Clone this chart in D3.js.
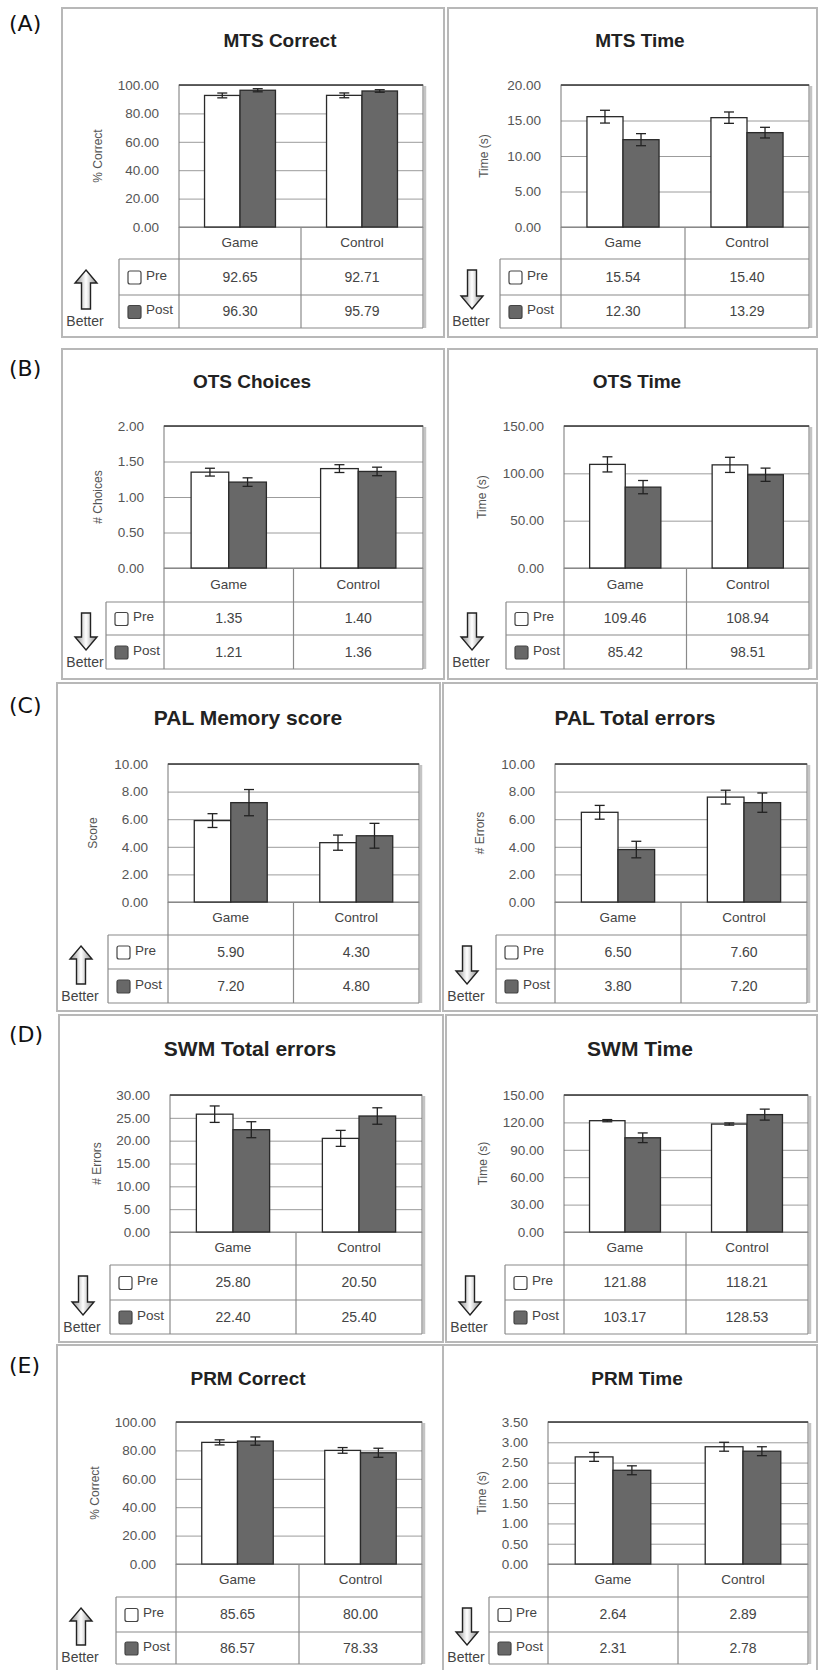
<!DOCTYPE html>
<html>
<head>
<meta charset="utf-8">
<script src="https://cdn.jsdelivr.net/npm/d3@7"></script>
<style>
    body { margin: 0; background: #fff; }
    svg { display: block; }
</style>
</head>
<body>
<div id="chart-area"></div>
<script>
'use strict';

// values
let categories = ['Game', 'Control'];
let seriesNames = ['Pre', 'Post'];
let panelLetters = ['(A)', '(B)', '(C)', '(D)', '(E)'];
let titles = ['MTS Correct', 'MTS Time', 'OTS Choices', 'OTS Time', 'PAL Memory score',
    'PAL Total errors', 'SWM Total errors', 'SWM Time', 'PRM Correct', 'PRM Time'];
let yLabels = ['% Correct', 'Time (s)', '# Choices', 'Time (s)', 'Score',
    '# Errors', '# Errors', 'Time (s)', '% Correct', 'Time (s)'];
let preMeans = [[92.65, 92.71], [15.54, 15.40], [1.35, 1.40], [109.46, 108.94], [5.90, 4.30],
    [6.50, 7.60], [25.80, 20.50], [121.88, 118.21], [85.65, 80.00], [2.64, 2.89]];
let postMeans = [[96.30, 95.79], [12.30, 13.29], [1.21, 1.36], [85.42, 98.51], [7.20, 4.80],
    [3.80, 7.20], [22.40, 25.40], [103.17, 128.53], [86.57, 78.33], [2.31, 2.78]];
let preErrors = [[1.7, 1.7], [0.9, 0.8], [0.055, 0.055], [8, 8], [0.5, 0.55],
    [0.5, 0.5], [1.8, 1.75], [1.2, 1.2], [1.8, 2.0], [0.11, 0.11]];
let postErrors = [[1.1, 0.9], [0.85, 0.75], [0.06, 0.06], [7, 7], [0.95, 0.9],
    [0.6, 0.7], [1.75, 1.8], [5.3, 6], [2.9, 3.2], [0.11, 0.11]];
let yTicks = [
    [0, 20, 40, 60, 80, 100],
    [0, 5, 10, 15, 20],
    [0, 0.5, 1, 1.5, 2],
    [0, 50, 100, 150],
    [0, 2, 4, 6, 8, 10],
    [0, 2, 4, 6, 8, 10],
    [0, 5, 10, 15, 20, 25, 30],
    [0, 30, 60, 90, 120, 150],
    [0, 20, 40, 60, 80, 100],
    [0, 0.5, 1, 1.5, 2, 2.5, 3, 3.5],
];
let betterUp = [true, false, false, false, true, false, false, false, true, false];

// layout (pixels)
let rows = [
    {top: 8, bottom: 337, letterY: 31, titleY: 47, titleSize: 19, plotTop: 85, plotBottom: 227, catBottom: 259, preBottom: 295, postBottom: 328},
    {top: 349, bottom: 679, letterY: 376, titleY: 388, titleSize: 19, plotTop: 426, plotBottom: 568, catBottom: 602, preBottom: 635, postBottom: 669},
    {top: 683, bottom: 1011, letterY: 713, titleY: 725, titleSize: 21, plotTop: 764, plotBottom: 902, catBottom: 935, preBottom: 969, postBottom: 1003},
    {top: 1015, bottom: 1342, letterY: 1042, titleY: 1056, titleSize: 21, plotTop: 1095, plotBottom: 1232, catBottom: 1265, preBottom: 1300, postBottom: 1334},
    {top: 1345, bottom: 1675, letterY: 1373, titleY: 1385, titleSize: 19, plotTop: 1422, plotBottom: 1564, catBottom: 1597, preBottom: 1632, postBottom: 1664},
];
let cols = [
    {boxLeft: 62, boxRight: 444, plotLeft: 179, plotRight: 423, tableLeft: 119, titleX: 280, yLabelX: 98},
    {boxLeft: 448, boxRight: 817, plotLeft: 561, plotRight: 809, tableLeft: 500, titleX: 640, yLabelX: 484},
    {boxLeft: 62, boxRight: 444, plotLeft: 164, plotRight: 423, tableLeft: 106, titleX: 252, yLabelX: 98},
    {boxLeft: 448, boxRight: 817, plotLeft: 564, plotRight: 809, tableLeft: 506, titleX: 637, yLabelX: 482},
    {boxLeft: 57, boxRight: 440, plotLeft: 168, plotRight: 419, tableLeft: 108, titleX: 248, yLabelX: 93},
    {boxLeft: 443, boxRight: 817, plotLeft: 555, plotRight: 807, tableLeft: 496, titleX: 635, yLabelX: 480},
    {boxLeft: 59, boxRight: 443, plotLeft: 170, plotRight: 422, tableLeft: 110, titleX: 250, yLabelX: 97},
    {boxLeft: 446, boxRight: 817, plotLeft: 564, plotRight: 808, tableLeft: 505, titleX: 640, yLabelX: 483},
    {boxLeft: 57, boxRight: 443, plotLeft: 176, plotRight: 422, tableLeft: 116, titleX: 248, yLabelX: 95},
    {boxLeft: 443, boxRight: 817, plotLeft: 548, plotRight: 808, tableLeft: 489, titleX: 637, yLabelX: 482},
];

let font = 'Liberation Sans, Arial, sans-serif';
let postFill = '#686868';
let fmt = d3.format('.2f');

let svg = d3.select('#chart-area').append('svg')
    .attr('width', 820)
    .attr('height', 1670);

let grad = svg.append('defs').append('linearGradient')
    .attr('id', 'arrowFill')
    .attr('x1', '0%').attr('x2', '100%')
    .attr('y1', '0%').attr('y2', '0%');
grad.append('stop').attr('offset', '0%').attr('stop-color', '#8a8a8a');
grad.append('stop').attr('offset', '50%').attr('stop-color', '#ffffff');
grad.append('stop').attr('offset', '100%').attr('stop-color', '#8a8a8a');

panelLetters.forEach((l, r) => {
    svg.append('text')
        .attr('x', 9)
        .attr('y', rows[r].letterY)
        .attr('font-family', 'DejaVu Sans, Verdana, sans-serif')
        .attr('font-size', '22px')
        .attr('fill', '#111')
        .text(l);
});

titles.forEach((t, i) => drawPanel(i));

function drawPanel(i) {
    let row = rows[Math.floor(i / 2)];
    let col = cols[i];
    let g = svg.append('g');

    g.append('rect')
        .attr('x', col.boxLeft)
        .attr('y', row.top)
        .attr('width', col.boxRight - col.boxLeft)
        .attr('height', row.bottom - row.top)
        .attr('fill', '#fff')
        .attr('stroke', '#b8b8b8')
        .attr('stroke-width', 2);

    g.append('text')
        .attr('x', col.titleX)
        .attr('y', row.titleY)
        .attr('text-anchor', 'middle')
        .attr('font-family', font)
        .attr('font-weight', 'bold')
        .attr('font-size', row.titleSize + 'px')
        .attr('fill', '#222')
        .text(titles[i]);

    let ticks = yTicks[i];
    let y = d3.scaleLinear()
        .domain([0, ticks[ticks.length - 1]])
        .range([row.plotBottom, row.plotTop]);

    let x0 = d3.scaleBand()
        .domain(categories)
        .range([col.plotLeft, col.plotRight]);

    let x1 = d3.scaleBand()
        .domain(seriesNames)
        .range([0, x0.bandwidth()])
        .paddingInner(0)
        .paddingOuter(0.72);

    // gridlines and tick labels
    let yAxis = d3.axisLeft(y)
        .tickValues(ticks)
        .tickSizeInner(-(col.plotRight - col.plotLeft))
        .tickSizeOuter(0)
        .tickPadding(20)
        .tickFormat(fmt);

    let ax = g.append('g')
        .attr('transform', 'translate(' + col.plotLeft + ',0)')
        .call(yAxis);
    ax.select('.domain').remove();
    ax.selectAll('line').attr('stroke', '#9c9c9c').attr('stroke-width', 1);
    ax.selectAll('text')
        .attr('font-family', font)
        .attr('font-size', '13.5px')
        .attr('fill', '#555');

    // plot frame
    g.append('line')
        .attr('x1', col.plotRight + 2).attr('x2', col.plotRight + 2)
        .attr('y1', row.plotTop + 1).attr('y2', row.postBottom)
        .attr('stroke', '#c4c4c4').attr('stroke-width', 2.5);
    g.append('rect')
        .attr('x', col.plotLeft)
        .attr('y', row.plotTop)
        .attr('width', col.plotRight - col.plotLeft)
        .attr('height', row.plotBottom - row.plotTop)
        .attr('fill', 'none')
        .attr('stroke', '#777')
        .attr('stroke-width', 1);
    g.append('line')
        .attr('x1', col.plotLeft).attr('x2', col.plotRight)
        .attr('y1', row.plotTop).attr('y2', row.plotTop)
        .attr('stroke', '#444').attr('stroke-width', 1.5);

    let bars = [];
    categories.forEach((c, j) => {
        bars.push({cat: c, s: 'Pre', v: preMeans[i][j], e: preErrors[i][j]});
        bars.push({cat: c, s: 'Post', v: postMeans[i][j], e: postErrors[i][j]});
    });

    g.selectAll('rect.bar')
        .data(bars)
        .enter()
        .append('rect')
            .attr('class', 'bar')
            .attr('x', (d) => x0(d.cat) + x1(d.s))
            .attr('y', (d) => y(d.v))
            .attr('width', x1.bandwidth())
            .attr('height', (d) => y(0) - y(d.v))
            .attr('fill', (d) => d.s === 'Pre' ? '#fff' : postFill)
            .attr('stroke', '#2a2a2a')
            .attr('stroke-width', 1.3);

    // error bars
    let eb = g.selectAll('g.err')
        .data(bars)
        .enter()
        .append('g')
            .attr('class', 'err')
            .attr('transform', (d) => 'translate(' + (x0(d.cat) + x1(d.s) + x1.bandwidth() / 2) + ',0)');
    eb.append('line')
        .attr('y1', (d) => y(d.v + d.e)).attr('y2', (d) => y(d.v - d.e))
        .attr('stroke', '#222').attr('stroke-width', 1.3);
    eb.append('line')
        .attr('x1', -5).attr('x2', 5)
        .attr('y1', (d) => y(d.v + d.e)).attr('y2', (d) => y(d.v + d.e))
        .attr('stroke', '#222').attr('stroke-width', 1.3);
    eb.append('line')
        .attr('x1', -5).attr('x2', 5)
        .attr('y1', (d) => y(d.v - d.e)).attr('y2', (d) => y(d.v - d.e))
        .attr('stroke', '#222').attr('stroke-width', 1.3);

    // data table
    let lineColor = '#8a8a8a';
    let vLines = [col.plotLeft, x0('Control'), col.plotRight];
    vLines.forEach((vx) => {
        g.append('line')
            .attr('x1', vx).attr('x2', vx)
            .attr('y1', row.plotBottom).attr('y2', row.postBottom)
            .attr('stroke', lineColor).attr('stroke-width', 1.2);
    });
    g.append('line')
        .attr('x1', col.tableLeft).attr('x2', col.tableLeft)
        .attr('y1', row.catBottom).attr('y2', row.postBottom)
        .attr('stroke', lineColor).attr('stroke-width', 1.2);
    [row.catBottom, row.preBottom, row.postBottom].forEach((hy) => {
        g.append('line')
            .attr('x1', col.tableLeft).attr('x2', col.plotRight)
            .attr('y1', hy).attr('y2', hy)
            .attr('stroke', lineColor).attr('stroke-width', 1.2);
    });

    g.selectAll('text.cat')
        .data(categories)
        .enter()
        .append('text')
            .attr('class', 'cat')
            .attr('x', (c) => x0(c) + x0.bandwidth() / 2)
            .attr('y', (row.plotBottom + row.catBottom) / 2 - 1)
            .attr('dy', '0.35em')
            .attr('text-anchor', 'middle')
            .attr('font-family', font)
            .attr('font-size', '13.5px')
            .attr('fill', '#444')
            .text((c) => c);

    let tableRows = [
        {name: 'Pre', vals: preMeans[i], top: row.catBottom, bottom: row.preBottom, fill: '#fff'},
        {name: 'Post', vals: postMeans[i], top: row.preBottom, bottom: row.postBottom, fill: postFill},
    ];
    tableRows.forEach((tr) => {
        let cy = (tr.top + tr.bottom) / 2;
        g.append('rect')
            .attr('x', col.tableLeft + 9)
            .attr('y', cy - 6)
            .attr('width', 13)
            .attr('height', 13)
            .attr('rx', 2)
            .attr('fill', tr.fill)
            .attr('stroke', '#444')
            .attr('stroke-width', 1.2);
        g.append('text')
            .attr('x', col.tableLeft + 27)
            .attr('y', cy - 2)
            .attr('dy', '0.35em')
            .attr('font-family', font)
            .attr('font-size', '13.5px')
            .attr('fill', '#444')
            .text(tr.name);
        categories.forEach((c, j) => {
            g.append('text')
                .attr('x', x0(c) + x0.bandwidth() / 2)
                .attr('y', cy)
                .attr('dy', '0.35em')
                .attr('text-anchor', 'middle')
                .attr('font-family', font)
                .attr('font-size', '14px')
                .attr('fill', '#444')
                .text(fmt(tr.vals[j]));
        });
    });

    // y label
    let midY = (row.plotTop + row.plotBottom) / 2;
    g.append('text')
        .attr('transform', 'translate(' + col.yLabelX + ',' + midY + ') rotate(-90)')
        .attr('text-anchor', 'middle')
        .attr('dy', '0.35em')
        .attr('font-family', font)
        .attr('font-size', '12px')
        .attr('fill', '#555')
        .text(yLabels[i]);

    // "Better" arrow
    let cx = col.boxLeft + 24;
    let ty = row.catBottom + 11;
    let by = row.postBottom - 19;
    let hh = 13, hw = 11, sw = 4.5;
    let pts;
    if (betterUp[i]) {
        pts = [[cx, ty], [cx + hw, ty + hh], [cx + sw, ty + hh], [cx + sw, by],
            [cx - sw, by], [cx - sw, ty + hh], [cx - hw, ty + hh]];
    } else {
        pts = [[cx, by], [cx + hw, by - hh], [cx + sw, by - hh], [cx + sw, ty],
            [cx - sw, ty], [cx - sw, by - hh], [cx - hw, by - hh]];
    }
    g.append('path')
        .attr('d', d3.line()(pts) + 'Z')
        .attr('fill', 'url(#arrowFill)')
        .attr('stroke', '#222')
        .attr('stroke-width', 1.4);
    g.append('text')
        .attr('x', cx - 1)
        .attr('y', row.postBottom - 2)
        .attr('text-anchor', 'middle')
        .attr('font-family', font)
        .attr('font-size', '14px')
        .attr('fill', '#444')
        .text('Better');
}
</script>
</body>
</html>
